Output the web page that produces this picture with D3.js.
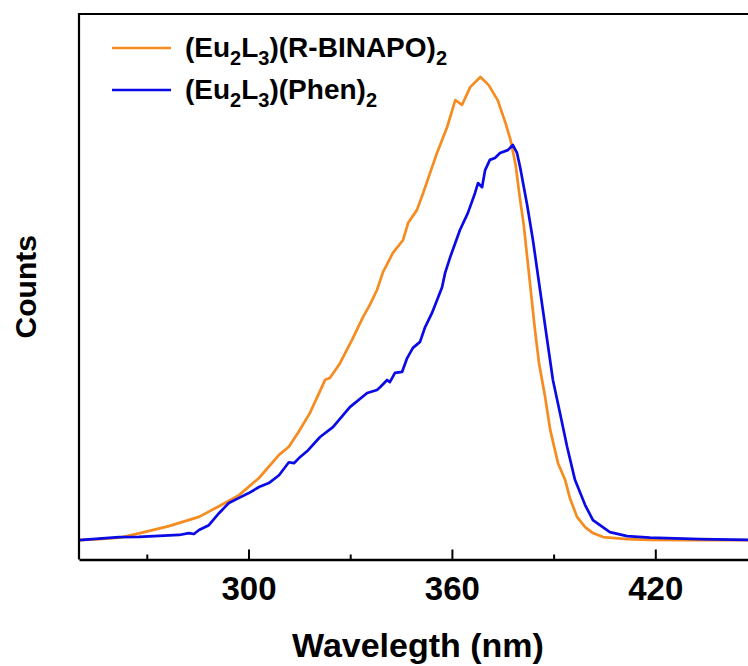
<!DOCTYPE html>
<html>
<head>
<meta charset="utf-8">
<script src="https://cdn.jsdelivr.net/npm/d3@7"></script>
<style>
  html, body { margin: 0; padding: 0; background: #ffffff; }
  svg { display: block; }
  text { font-family: "Liberation Sans", Arial, "DejaVu Sans", sans-serif; font-weight: bold; fill: #000; }
</style>
</head>
<body>
<svg id="chart" width="748" height="666"></svg>
<script>
// ---------- data ----------
const seriesNames = ["(Eu2L3)(R-BINAPO)2", "(Eu2L3)(Phen)2"];
const seriesColors = ["#f68b1f", "#0a0ae6"];

const wavelengthOrange = [250.0, 255.9, 261.8, 267.7, 276.5, 285.4, 291.3, 297.2, 303.1, 309.0, 311.9, 314.9,
  318.1, 322.6, 324.0, 327.0, 330.8, 333.8, 335.8, 337.9, 339.7, 342.6, 345.6, 347.1, 349.7, 351.5,
  355.6, 358.6, 361.0, 363.0, 365.4, 368.4, 370.8, 373.5, 375.8, 377.3, 378.8, 380.0, 381.2, 382.4,
  384.5, 385.7, 387.5, 389.0, 391.3, 393.4, 394.8, 396.9, 399.3, 401.6, 404.6, 411.7, 418.4, 430.0, 440.0, 450.0];
const countsOrange = [0.000, 0.002, 0.005, 0.0145, 0.030, 0.050, 0.073, 0.097, 0.134, 0.184, 0.2015, 0.235,
  0.274, 0.346, 0.350, 0.382, 0.436, 0.482, 0.508, 0.540, 0.579, 0.620, 0.648, 0.685, 0.713, 0.749,
  0.836, 0.892, 0.950, 0.940, 0.978, 1.000, 0.983, 0.950, 0.901, 0.864, 0.810, 0.741, 0.680, 0.598,
  0.454, 0.382, 0.309, 0.238, 0.166, 0.130, 0.091, 0.050, 0.028, 0.015, 0.0065, 0.002, 0.0005, 0.000, 0.000, 0.000];

const wavelengthBlue = [250.0, 255.9, 261.8, 267.7, 273.6, 279.5, 282.4, 283.9, 285.4, 288.3, 291.3, 294.2,
  297.2, 300.1, 303.1, 306.0, 309.0, 311.9, 313.4, 314.9, 317.6, 321.1, 324.9, 329.9, 335.0, 337.9,
  338.8, 340.9, 341.7, 343.2, 345.3, 346.8, 348.5, 350.6, 352.1, 354.1, 355.6, 357.1, 358.0, 359.5,
  362.4, 364.7, 366.8, 367.7, 368.9, 369.8, 371.2, 372.7, 374.2, 376.5, 378.0, 379.2, 380.1, 382.2,
  383.9, 386.0, 388.1, 389.8, 391.9, 394.0, 396.3, 399.3, 401.6, 406.6, 411.7, 418.4, 433.2, 450.0];
const countsBlue = [0.000, 0.003, 0.0065, 0.007, 0.009, 0.011, 0.015, 0.013, 0.0216, 0.032, 0.058, 0.080,
  0.091, 0.1015, 0.1145, 0.123, 0.140, 0.168, 0.166, 0.177, 0.194, 0.2225, 0.244, 0.287, 0.3175, 0.324,
  0.330, 0.3456, 0.341, 0.361, 0.363, 0.393, 0.415, 0.428, 0.460, 0.490, 0.518, 0.546, 0.577, 0.611,
  0.670, 0.706, 0.749, 0.771, 0.762, 0.799, 0.821, 0.825, 0.836, 0.842, 0.853, 0.836, 0.806, 0.7235,
  0.648, 0.540, 0.432, 0.3456, 0.274, 0.201, 0.130, 0.0756, 0.043, 0.017, 0.0086, 0.0054, 0.002, 0.000];

const xDomain = [250, 450];
const yDomain = [-0.042, 1.136];
const majorTicks = [300, 360, 420];
const minorTicks = [270, 330, 390];
const xTitle = "Wavelegth (nm)";
const yTitle = "Counts";

// ---------- layout ----------
const plotLeft = 79, plotRight = 757, plotTop = 14, plotBottom = 559.5;
const svg = d3.select("#chart");

const x = d3.scaleLinear().domain(xDomain).range([plotLeft, plotRight]);
const y = d3.scaleLinear().domain(yDomain).range([plotBottom, plotTop]);

svg.append("rect").attr("width", 748).attr("height", 666).attr("fill", "#ffffff");

const clip = svg.append("clipPath").attr("id", "plotclip");
clip.append("rect").attr("x", plotLeft).attr("y", plotTop).attr("width", plotRight - plotLeft).attr("height", plotBottom - plotTop);

// curves
const line = d3.line().x(d => x(d[0])).y(d => y(d[1]));
const orangeData = wavelengthOrange.map((w, i) => [w, countsOrange[i]]);
const blueData = wavelengthBlue.map((w, i) => [w, countsBlue[i]]);

const plot = svg.append("g").attr("clip-path", "url(#plotclip)");
plot.append("path").datum(orangeData).attr("d", line)
  .attr("fill", "none").attr("stroke", seriesColors[0]).attr("stroke-width", 2.7).attr("stroke-linejoin", "round");
plot.append("path").datum(blueData).attr("d", line)
  .attr("fill", "none").attr("stroke", seriesColors[1]).attr("stroke-width", 2.7).attr("stroke-linejoin", "round");

// frame
svg.append("path")
  .attr("d", `M${plotRight},${plotTop}H${plotLeft}V${plotBottom}`)
  .attr("fill", "none").attr("stroke", "#000").attr("stroke-width", 2.2);

// minor ticks
svg.append("g").attr("transform", `translate(0,${plotBottom})`)
  .call(d3.axisBottom(x).tickValues(minorTicks).tickSize(-5).tickSizeOuter(0).tickFormat(""))
  .call(g => g.select(".domain").remove())
  .call(g => g.selectAll("line").attr("stroke", "#000").attr("stroke-width", 2));

// major ticks + labels
const xAxis = svg.append("g").attr("transform", `translate(0,${plotBottom})`)
  .call(d3.axisBottom(x).tickValues(majorTicks).tickSize(-10).tickSizeOuter(0).tickPadding(17).tickFormat(d3.format("d")));
xAxis.select(".domain").attr("stroke", "#000").attr("stroke-width", 2.4);
xAxis.selectAll("line").attr("stroke", "#000").attr("stroke-width", 2);
xAxis.selectAll("text").attr("font-size", 33).attr("font-family", "'Liberation Sans', Arial, sans-serif")
  .attr("font-weight", "bold").attr("fill", "#000");

// axis titles
svg.append("text").attr("x", (plotLeft + plotRight) / 2).attr("y", 657)
  .attr("text-anchor", "middle").attr("font-size", 34).text(xTitle);
svg.append("text").attr("transform", `translate(36,${(plotTop + plotBottom) / 2}) rotate(-90)`)
  .attr("text-anchor", "middle").attr("font-size", 30).text(yTitle);

// legend
function subText(sel, str) {
  const parts = [];
  let buf = "";
  for (let i = 0; i < str.length; i++) {
    const ch = str[i];
    const isSub = /[0-9]/.test(ch) && i > 0 && /[A-Za-z)]/.test(str[i - 1]);
    if (isSub) {
      if (buf) parts.push({ t: buf, sub: false });
      parts.push({ t: ch, sub: true });
      buf = "";
    } else buf += ch;
  }
  if (buf) parts.push({ t: buf, sub: false });
  let shifted = false;
  parts.forEach(p => {
    const ts = sel.append("tspan").text(p.t);
    if (p.sub && !shifted) { ts.attr("dy", 8).attr("font-size", 20); shifted = true; }
    else if (p.sub) { ts.attr("font-size", 20); }
    else if (!p.sub && shifted) { ts.attr("dy", -8); shifted = false; }
  });
}
const legendY = [48, 90];
const legendTextY = [57, 99];
seriesNames.forEach((name, i) => {
  svg.append("line").attr("x1", 112).attr("x2", 171).attr("y1", legendY[i]).attr("y2", legendY[i])
    .attr("stroke", seriesColors[i]).attr("stroke-width", 2.6);
  const t = svg.append("text").attr("x", 185).attr("y", legendTextY[i]).attr("font-size", 28);
  subText(t, name);
});
</script>
</body>
</html>
